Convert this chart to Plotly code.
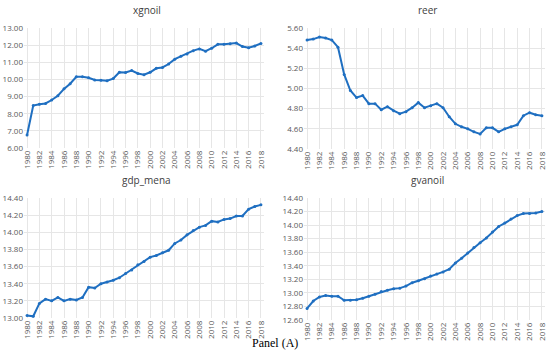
import plotly.graph_objects as go

years = list(range(1980, 2019))

xgnoil = [6.76, 8.48, 8.55, 8.60, 8.80, 9.05, 9.45, 9.75, 10.15, 10.15,
          10.10, 9.97, 9.95, 9.92, 10.05, 10.42, 10.40, 10.52, 10.35, 10.28,
          10.42, 10.65, 10.70, 10.90, 11.18, 11.35, 11.48, 11.68, 11.78, 11.65,
          11.82, 12.05, 12.05, 12.08, 12.12, 11.92, 11.85, 11.95, 12.10]

reer = [5.48, 5.49, 5.51, 5.50, 5.48, 5.41, 5.14, 4.98, 4.91, 4.93,
        4.85, 4.85, 4.79, 4.82, 4.78, 4.75, 4.77, 4.81, 4.86, 4.81,
        4.83, 4.85, 4.81, 4.72, 4.65, 4.62, 4.60, 4.57, 4.55, 4.61,
        4.61, 4.57, 4.60, 4.62, 4.64, 4.73, 4.76, 4.74, 4.73]

gdp_mena = [13.03, 13.02, 13.17, 13.22, 13.20, 13.24, 13.20, 13.22, 13.21, 13.24,
            13.36, 13.35, 13.40, 13.42, 13.44, 13.47, 13.52, 13.56, 13.62, 13.66,
            13.71, 13.73, 13.76, 13.79, 13.87, 13.91, 13.97, 14.02, 14.06, 14.08,
            14.13, 14.12, 14.15, 14.16, 14.19, 14.19, 14.27, 14.30, 14.32]

gvanoil = [12.77, 12.88, 12.94, 12.96, 12.95, 12.95, 12.89, 12.89, 12.90, 12.92,
           12.95, 12.98, 13.02, 13.04, 13.06, 13.07, 13.10, 13.15, 13.18, 13.21,
           13.25, 13.28, 13.31, 13.35, 13.44, 13.51, 13.59, 13.67, 13.74, 13.81,
           13.90, 13.98, 14.03, 14.09, 14.14, 14.17, 14.17, 14.18, 14.20]

titles = ["xgnoil", "reer", "gdp_mena", "gvanoil"]
series = [xgnoil, reer, gdp_mena, gvanoil]
yranges = [(6.0, 13.0, 1.0), (4.4, 5.6, 0.2), (13.0, 14.4, 0.2), (12.6, 14.4, 0.2)]
xtick_vals = list(range(1980, 2019, 2))

W, H = 550, 353
# pixel boxes: (left, right, top, bottom)
boxes = [(24, 264, 28, 148), (304, 545, 28, 149), (24, 264, 198, 318), (304, 545, 198, 320)]

fig = go.Figure()
line_color = "#1f6fc1"
grid_color = "#e6e6e6"
tick_font = dict(family="Open Sans, Arial, sans-serif", size=8, color="#595959")

layout = dict(width=W, height=H, autosize=False, margin=dict(l=0, r=0, t=0, b=0, pad=0),
              paper_bgcolor="white", plot_bgcolor="white", showlegend=False)

annotations = []
for i, (t, s, yr, b) in enumerate(zip(titles, series, yranges, boxes)):
    n = "" if i == 0 else str(i + 1)
    fig.add_trace(go.Scatter(x=years, y=s, mode="lines+markers",
                             line=dict(color=line_color, width=2),
                             marker=dict(size=3, color=line_color),
                             xaxis="x" + n, yaxis="y" + n, cliponaxis=False))
    l, r, top, bot = b
    layout["xaxis" + n] = dict(domain=[l / W, r / W], range=[1979.5, 2018.5],
                               tickvals=xtick_vals, ticktext=[str(v) for v in xtick_vals],
                               tickangle=-90, showgrid=True, gridcolor=grid_color, gridwidth=1,
                               zeroline=False, showline=False, ticks="", automargin=False,
                               tickfont=tick_font, anchor="y" + n, ticklen=0)
    layout["yaxis" + n] = dict(domain=[(H - bot) / H, (H - top) / H],
                               range=[yr[0], yr[1]], dtick=yr[2], tick0=yr[0],
                               tickformat=".2f", showgrid=True, gridcolor=grid_color,
                               zeroline=False, showline=False, ticks="", automargin=False,
                               tickfont=tick_font, anchor="x" + n)
    annotations.append(dict(text=t, x=(l + r) / 2 / W + 0.005, y=(H - (top - 18)) / H,
                            xref="paper", yref="paper", showarrow=False,
                            xanchor="center", yanchor="middle",
                            font=dict(family="Open Sans, Arial, sans-serif", size=10, color="#404040")))

annotations.append(dict(text="Panel (A)", x=0.5, y=(H - 343) / H, xref="paper", yref="paper",
                        showarrow=False, xanchor="center", yanchor="middle",
                        font=dict(family="Liberation Serif, Times New Roman, serif", size=12, color="black")))
layout["annotations"] = annotations
fig.update_layout(**layout)

post = ("document.documentElement.style.margin='0';document.documentElement.style.padding='0';"
        "document.documentElement.style.overflow='hidden';"
        "document.body.style.margin='0';document.body.style.padding='0';"
        "document.body.style.overflow='hidden';")
fig.write_html("out.html", config={"responsive": False, "displayModeBar": False}, post_script=post)
